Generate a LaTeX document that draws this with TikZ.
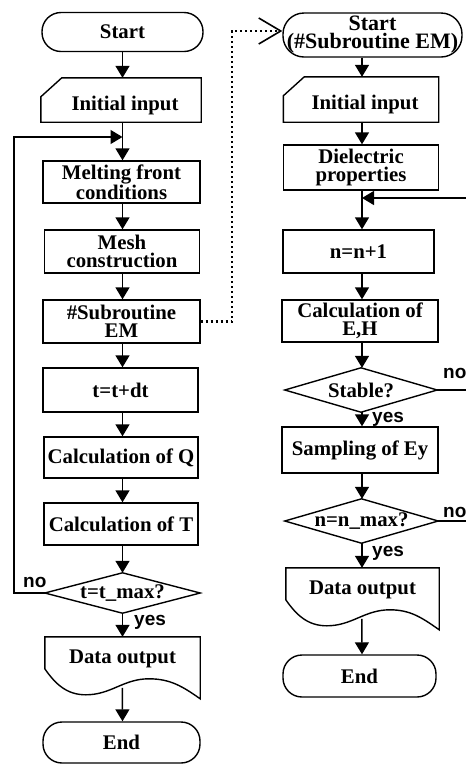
\documentclass[tikz,border=0pt]{standalone}
\usepackage{fontspec}
\setmainfont{Liberation Serif}
\newfontfamily\yesfont{Liberation Sans}
\usetikzlibrary{arrows.meta,calc}
\newcommand\ManInputShape[1]{%
  \draw[outline] ($(#1.north west)+(21,0)$) -- (#1.north east) -- (#1.south east)
    -- (#1.south west) -- ($(#1.north west)+(0,19)$) -- cycle;}
\newcommand\DocOutline[1]{%
  \draw[outline] (#1.north west) -- (#1.north east) -- ($(#1.north east)+(0,62)$)
    to[out=145,in=0] ($(#1.north west)+(104,42)$)
    to[out=180,in=0] ($(#1.north west)+(41,58)$)
    to[out=180,in=-55] ($(#1.north west)+(0,32)$) -- cycle;}
\newcommand\DiaOutline[1]{%
  \draw[outline] (#1.north) -- (#1.east) -- (#1.south) -- (#1.west) -- cycle;}
\begin{document}
\begin{tikzpicture}[x=1pt,y=-1pt,
  outline/.style={line width=1.4pt, line join=miter},
  txt/.style={font=\fontsize{20.8}{18}\selectfont\bfseries, align=center, inner sep=0pt},
  box/.style={txt, draw, line width=1.4pt},
  plain/.style={txt, draw=none},
  term/.style={box, rounded corners=19pt},
  flow/.style={line width=1.4pt, -{Triangle[length=12pt,width=14pt]}},
  link/.style={line width=1.4pt},
  dots/.style={line width=2.2pt, dash pattern=on 2pt off 3pt,
    -{Straight Barb[length=22pt,width=26pt,line width=1.6pt]}},
  yn/.style={font=\fontsize{19}{19}\selectfont\bfseries\yesfont, inner sep=0pt, anchor=base west}]
\useasboundingbox (0,0) rectangle (466,764);
\coordinate (ax1) at (122.5,0);
\coordinate (ax2) at (362,0);

% ---------- left column ----------
\node[term, minimum width=161pt, minimum height=39pt] (s1) at (122.5,32) {Start};
\node[plain, minimum width=160pt, minimum height=44pt] (i1) at (121,100) {};
\ManInputShape{i1}
\node[txt] at ($(i1.center)+(4,5)$) {Initial input};
\node[box, minimum width=157pt, minimum height=42pt] (melt) at (121.5,182) {Melting front\\conditions};
\node[box, minimum width=155pt, minimum height=43pt] (mesh) at (122,251.5) {Mesh\\construction};
\node[box, minimum width=157pt, minimum height=43pt] (sub) at (121.5,321.5) {\#Subroutine\\EM};
\node[box, minimum width=155pt, minimum height=44pt] (tdt) at (120.5,390) {t=t+dt};
\node[box, minimum width=154pt, minimum height=41pt] (cq) at (121,457.5) {Calculation of Q};
\node[box, minimum width=154pt, minimum height=42pt] (ct) at (121,524) {Calculation of T};
\node[plain, minimum width=155pt, minimum height=40pt] (d1) at (122.5,593) {t=t\_max?};
\DiaOutline{d1}
\node[plain, minimum width=155pt, minimum height=45pt] (o1) at (122.5,659.5) {};
\DocOutline{o1}
\node[txt] at ($(o1.center)+(0,-1)$) {Data output};
\coordinate (o1b) at ($(o1.north west)+(77.5,51)$);
\node[term, minimum width=157pt, minimum height=41pt] (e1) at (121.5,742.5) {End};

\coordinate (j1) at (122.5,137);
\coordinate (l1) at (14,137);
\draw[flow] (s1.south -| ax1) -- (i1.north -| ax1);
\draw[flow] (i1.south -| ax1) -- (melt.north -| ax1);
\draw[flow] (melt.south -| ax1) -- (mesh.north -| ax1);
\draw[flow] (mesh.south -| ax1) -- (sub.north -| ax1);
\draw[flow] (sub.south -| ax1) -- (tdt.north -| ax1);
\draw[flow] (tdt.south -| ax1) -- (cq.north -| ax1);
\draw[flow] (cq.south -| ax1) -- (ct.north -| ax1);
\draw[flow] (ct.south -| ax1) -- (d1.north -| ax1);
\draw[flow] (d1.south -| ax1) -- (o1.north -| ax1);
\draw[flow] (o1b) -- (e1.north -| ax1);
\draw[flow] (d1.west) -| (l1) -- (j1);
\node[yn] at (23,587) {no};
\node[yn] at (134,625) {yes};

% ---------- right column ----------
\node[term, minimum width=179pt, minimum height=44pt, rounded corners=21pt,
  font=\fontsize{22}{18}\selectfont\bfseries] (s2) at (372.5,35) {Start\\(\#Subroutine EM)};
\node[plain, minimum width=155pt, minimum height=45pt] (i2) at (361,99.5) {};
\ManInputShape{i2}
\node[txt] at ($(i2.center)+(4,5)$) {Initial input};
\node[box, minimum width=155pt, minimum height=45pt] (diel) at (361,167.5) {Dielectric\\properties};
\node[box, minimum width=151pt, minimum height=43pt] (nn) at (358.5,251.5) {n=n+1};
\node[box, minimum width=156pt, minimum height=42pt] (eh) at (360,321) {Calculation of\\E,H};
\node[plain, minimum width=152pt, minimum height=44pt] (st) at (361,390) {Stable?};
\DiaOutline{st}
\node[box, minimum width=156pt, minimum height=46pt] (sa) at (360,450) {Sampling of Ey};
\node[plain, minimum width=153pt, minimum height=44pt] (d2) at (361.5,521) {n=n\_max?};
\DiaOutline{d2}
\node[plain, minimum width=153pt, minimum height=45pt] (o2) at (362.5,590.5) {};
\DocOutline{o2}
\node[txt] at ($(o2.center)+(0,-1)$) {Data output};
\coordinate (o2b) at ($(o2.north west)+(76,51)$);
\node[term, minimum width=153pt, minimum height=42pt] (e2) at (359.5,676) {End};

\coordinate (j2) at (362,198);
\coordinate (r1) at (468,0);
\draw[flow] (s2.south -| ax2) -- (i2.north -| ax2);
\draw[flow] (i2.south -| ax2) -- (diel.north -| ax2);
\draw[flow] (diel.south -| ax2) -- (nn.north -| ax2);
\draw[flow] (nn.south -| ax2) -- (eh.north -| ax2);
\draw[flow] (eh.south -| ax2) -- (st.north -| ax2);
\draw[flow] (st.south -| ax2) -- (sa.north -| ax2);
\draw[flow] (sa.south -| ax2) -- (d2.north -| ax2);
\draw[flow] (d2.south -| ax2) -- (o2.north -| ax2);
\draw[flow] (o2b) -- (e2.north -| ax2);
\draw[flow] (st.east) -- (st.east -| r1) |- (j2);
\draw[link] (d2.east) -| (st.east -| r1);
\node[yn] at (443,378) {no};
\node[yn] at (372,422) {yes};
\node[yn] at (443,517) {no};
\node[yn] at (372,556) {yes};

% ---------- dotted link to subroutine ----------
\coordinate (dc) at (232,31);
\draw[dots] (sub.east) -| (dc) -- (dc -| s2.west);
\end{tikzpicture}
\end{document}
